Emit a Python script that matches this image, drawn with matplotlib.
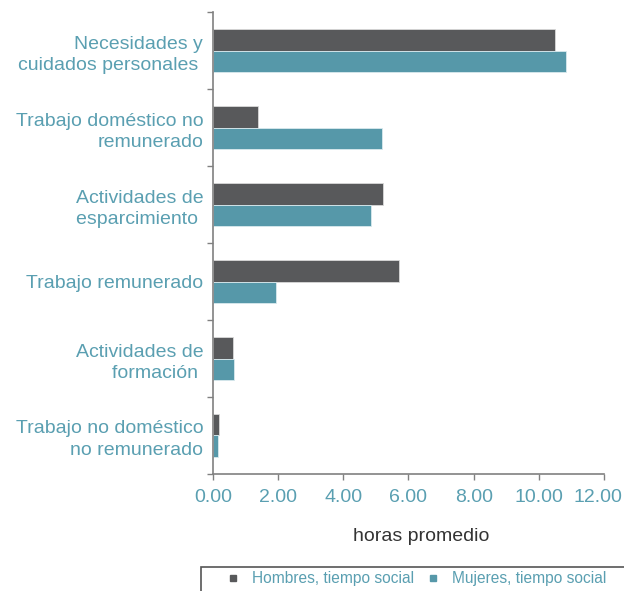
import matplotlib.pyplot as plt
import matplotlib.transforms as mtransforms
from matplotlib.lines import Line2D
from matplotlib.patches import Rectangle
import numpy as np

plt.rcParams['font.family'] = ['Liberation Sans', 'DejaVu Sans']

# categorías de uso del tiempo (de arriba hacia abajo)
categorias = [
    "Necesidades y\ncuidados personales ",
    "Trabajo doméstico no\nremunerado",
    "Actividades de\nesparcimiento ",
    "Trabajo remunerado",
    "Actividades de\nformación ",
    "Trabajo no doméstico\nno remunerado",
]
hombres = [10.49, 1.38, 5.22, 5.72, 0.61, 0.19]
mujeres = [10.83, 5.20, 4.84, 1.94, 0.64, 0.14]
ticks_x = [0, 2, 4, 6, 8, 10, 12]

GRIS = "#58595b"
TEAL = "#5698a9"
TEXTO = "#5a9fb1"

fig = plt.figure(figsize=(6.24, 5.91), dpi=100)
ax = fig.add_axes([0.3413, 0.1980, 0.6266, 0.7816])

y = np.arange(len(categorias))
alto = 0.275
ax.barh(y - alto / 2, hombres, height=alto, color=GRIS,
        edgecolor="#d9d9d9", linewidth=0.6, label="Hombres, tiempo social")
ax.barh(y + alto / 2, mujeres, height=alto, color=TEAL,
        edgecolor="#d9e9ee", linewidth=0.6, label="Mujeres, tiempo social")

ax.set_ylim(len(categorias) - 0.5, -0.5)
ax.set_xlim(0, 12)

ax.set_yticks(y)
ax.set_yticklabels(categorias, fontsize=14, color=TEXTO, linespacing=1.38)
ax.tick_params(axis="y", length=0, pad=7)
ax.set_yticks(np.arange(-0.5, len(categorias) + 0.5, 1), minor=True)
ax.tick_params(axis="y", which="minor", length=4, color="#808080", width=1)

ax.set_xticks(ticks_x)
ax.set_xticklabels([f"{v:.2f}" for v in ticks_x], fontsize=14, color=TEXTO)
ax.tick_params(axis="x", length=4, color="#808080", width=1, pad=7)
ax.set_xlabel("horas promedio", fontsize=14, color="#333333")
ax.xaxis.set_label_coords(0.533, -0.117)

# la última etiqueta se corre un poco a la izquierda para que quepa
ultima = ax.get_xticklabels()[-1]
ultima.set_transform(ultima.get_transform() +
                     mtransforms.ScaledTranslation(-0.06, 0, fig.dpi_scale_trans))

for lado in ["top", "right"]:
    ax.spines[lado].set_visible(False)
for lado in ["left", "bottom"]:
    ax.spines[lado].set_color("#808080")
    ax.spines[lado].set_linewidth(1.2)

# leyenda al pie, dentro de un recuadro que sigue más allá del borde
marcas = [
    Line2D([], [], marker="s", linestyle="none", color=GRIS, markersize=4.5),
    Line2D([], [], marker="s", linestyle="none", color=TEAL, markersize=4.5),
]
fig.legend(marcas, ["Hombres, tiempo social", "Mujeres, tiempo social"],
           loc="center left", bbox_to_anchor=(227 / 624, 1 - 579 / 591), ncol=2,
           fontsize=11.2, frameon=False,
           handlelength=0.8, handletextpad=0.8, columnspacing=0.85,
           borderpad=0, borderaxespad=0, labelcolor=TEXTO)
fig.add_artist(Rectangle((201 / 624, -0.05), 0.75, 0.05 + 1 - 567 / 591,
                         transform=fig.transFigure, fill=False,
                         edgecolor="#555555", linewidth=1.2, clip_on=False))

fig.savefig("out.png", dpi=100)
